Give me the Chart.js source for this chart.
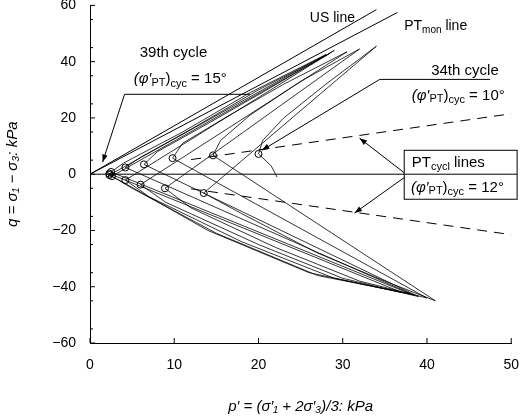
<!DOCTYPE html>
<html><head><script src="https://cdn.jsdelivr.net/npm/chart.js@4"></script>
<style>html,body{margin:0;background:#fff;overflow:hidden}#w{width:525px;height:429px;margin-top:-9px}</style></head>
<body><div id="w"><canvas id="c"></canvas></div>
<script>
const xTicks=[0,10,20,30,40,50];
const yTicks=[-60,-40,-20,0,20,40,60];
const stressPath=[[22.2,-1],[21.5,3],[20,7.2],[20.5,12],[23,20],[28,32],[34,45.5],[13.5,-6.7],[18,-14],[27,-28],[35,-38],[41,-45],
[14.6,6.7],[15.5,12],[19,21],[25,33],[32,44.5],[8.9,-5],[12,-12],[22,-26],[32,-38],[40,-44],
[9.8,5.7],[11,11],[16,20],[23,32],[30.5,43.5],[6,-3.7],[9,-10],[20,-25],[30,-37],[39,-43.5],
[6.4,3.5],[8,8],[14,18],[21,30],[29,44],[4.2,-2.1],[7,-8],[18,-24],[29,-37],[38.5,-43],
[4.2,2.4],[6,6],[12,16],[20,30],[28.5,43],[2.6,-0.7],[5,-5],[15,-21],[27,-36],[38,-42.5],
[2.5,0.8],[4,4],[11,15],[19,29],[28,42.5],[2.3,-0.3],[4,-3],[14,-20],[26,-35],[37,-42],[2.3,0.2]];
const ptPoints=[[20,7.2],[14.6,6.7],[9.8,5.7],[6.4,3.5],[4.2,2.4],[2.5,0.8],[2.3,0.2],[13.5,-6.7],[8.9,-5],[6,-3.7],[4.2,-2.1],[2.6,-0.7],[2.3,-0.3]];
const usLine=[[0,0],[34,58.5]];
const ptMonLine=[[0,0],[36.5,57.5]];
const ptCyclUpper=[[12,5.2],[50,21.5]];
const ptCyclLower=[[12,-5.2],[50,-21.5]];
const zeroLine=[[0,0],[50,0]];
const xy=a=>a.map(p=>({x:p[0],y:p[1]}));
const F='"Liberation Sans", Arial, sans-serif';
const ln=(d,extra)=>Object.assign({data:xy(d),showLine:true,borderColor:'#000',borderWidth:1,pointRadius:0,tension:0},extra||{});
const annot={id:'annot',afterDatasetsDraw(ch){
 const c=ch.ctx,X=v=>ch.scales.x.getPixelForValue(v),Y=v=>ch.scales.y.getPixelForValue(v);
 c.save();c.strokeStyle='#000';c.fillStyle='#000';c.lineWidth=1;
 const a=ch.chartArea;
 xTicks.forEach(v=>{c.beginPath();c.moveTo(X(v),a.bottom);c.lineTo(X(v),a.bottom-5);c.stroke();});
 yTicks.forEach(v=>{c.beginPath();c.moveTo(a.left,Y(v));c.lineTo(a.left+5,Y(v));c.stroke();});
 for(let v=-55;v<=55;v+=10){c.beginPath();c.moveTo(a.left,Y(v));c.lineTo(a.left+3,Y(v));c.stroke();}
 const L=(x1,y1,x2,y2)=>{c.beginPath();c.moveTo(X(x1),Y(y1));c.lineTo(X(x2),Y(y2));c.stroke();};
 const arrow=(x1,y1,x2,y2)=>{L(x1,y1,x2,y2);const ang=Math.atan2(Y(y2)-Y(y1),X(x2)-X(x1));c.beginPath();c.moveTo(X(x2),Y(y2));
  c.lineTo(X(x2)-8*Math.cos(ang-0.35),Y(y2)-8*Math.sin(ang-0.35));c.lineTo(X(x2)-8*Math.cos(ang+0.35),Y(y2)-8*Math.sin(ang+0.35));c.closePath();c.fill();};
 c.textBaseline='middle';
 const T=(s,x,y,size,align)=>{c.font=size+'px '+F;c.textAlign=align||'left';c.fillText(s,X(x),Y(y));return c.measureText(s).width;};
 const phi=(x,y,val)=>{let px=X(x);c.textAlign='left';c.font='italic 15px '+F;c.fillText('(φ′',px,Y(y));px+=c.measureText('(φ′').width;
  c.font='11px '+F;c.fillText('PT',px,Y(y)+4);px+=c.measureText('PT').width;c.font='15px '+F;c.fillText(')',px,Y(y));px+=c.measureText(')').width;
  c.font='11px '+F;c.fillText('cyc',px,Y(y)+5);px+=c.measureText('cyc').width;c.font='15px '+F;c.fillText(' = '+val,px,Y(y));};
 T('US line',26.1,55.5,14);
 let w=T('PT',37.3,52.8,14);c.font='10px '+F;c.fillText('mon',X(37.3)+w,Y(52.8)+5);w+=c.measureText('mon').width;T(' line',37.3+w/8.44,52.8,14);
 T('39th cycle',5.9,43.3,15);phi(5.2,34,'15°');L(4.1,28.4,19,28.4);arrow(4.1,28.4,1.5,4.3);
 T('34th cycle',40.5,36.9,15);phi(38.2,28,'10°');L(34.4,33.7,47.5,33.7);arrow(34.4,33.7,20.4,8.5);
 c.fillStyle='#fff';c.fillRect(X(37.3),Y(8.5),X(50.7)-X(37.3),Y(-8.9)-Y(8.5));c.strokeRect(X(37.3),Y(8.5),X(50.7)-X(37.3),Y(-8.9)-Y(8.5));c.fillStyle='#000';
 L(37.3,0,50.7,0);
 w=T('PT',38.2,4.2,15);c.font='11px '+F;c.fillText('cycl',X(38.2)+w,Y(4.2)+5);let w2=c.measureText('cycl').width;T(' lines',38.2+(w+w2)/8.44,4.2,15);
 phi(38.1,-4.7,'12°');
 arrow(37.3,0.5,32,12.8);arrow(37.3,-1.2,31.4,-13.8);
 c.restore();}};
new Chart(document.getElementById('c'),{type:'scatter',plugins:[annot],
 data:{datasets:[ln(zeroLine),ln(usLine),ln(ptMonLine),ln(ptCyclUpper,{borderDash:[10,7]}),ln(ptCyclLower,{borderDash:[10,7]}),
  ln(stressPath,{borderWidth:0.8}),
  {data:xy(ptPoints),pointRadius:3.5,pointStyle:'circle',borderColor:'#000',backgroundColor:'rgba(0,0,0,0)',borderWidth:1,showLine:false}]},
 options:{responsive:true,maintainAspectRatio:false,animation:false,layout:{padding:{top:0,right:3}},
  plugins:{legend:{display:false},tooltip:{enabled:false}},
  scales:{x:{type:'linear',min:0,max:50,afterBuildTicks:s=>{s.ticks=xTicks.map(v=>({value:v}));},afterFit:s=>{s.height=77;},
    grid:{display:false},border:{color:'#000'},ticks:{color:'#000',font:{family:F,size:14},padding:6},
    title:{display:true,text:'p′ = (σ′₁ + 2σ′₃)/3: kPa',color:'#000',font:{family:F,size:15,style:'italic'},padding:{top:18}}},
   y:{type:'linear',min:-60,max:60,afterBuildTicks:s=>{s.ticks=yTicks.map(v=>({value:v}));},afterFit:s=>{s.width=90;},
    grid:{display:false},border:{color:'#000'},ticks:{color:'#000',font:{family:F,size:14},padding:6,callback:v=>v<0?'−'+(-v):v},
    title:{display:true,text:'q = σ₁ − σ₃: kPa',color:'#000',font:{family:F,size:15,style:'italic'},padding:{bottom:14}}}}}});
</script></body></html>
